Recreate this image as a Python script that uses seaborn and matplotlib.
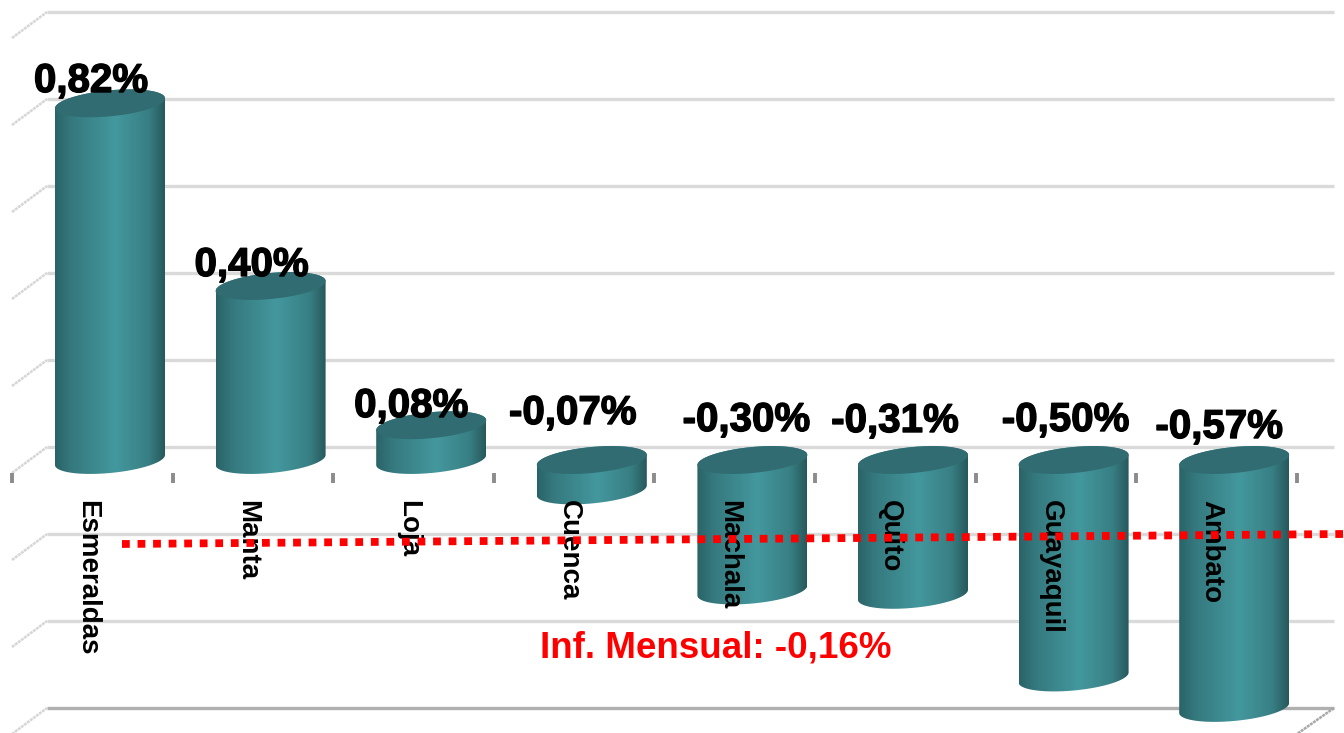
import numpy as np
import matplotlib
matplotlib.use('Agg')
import matplotlib.pyplot as plt
import matplotlib.patheffects as pe
from matplotlib.colors import LinearSegmentedColormap
from matplotlib.patches import Polygon
import seaborn as sns

cities = ['Esmeraldas', 'Manta', 'Loja', 'Cuenca', 'Machala', 'Quito', 'Guayaquil', 'Ambato']
inflation = [0.82, 0.40, 0.08, -0.07, -0.30, -0.31, -0.50, -0.57]
value_labels = ['0,82%', '0,40%', '0,08%', '-0,07%', '-0,30%', '-0,31%', '-0,50%', '-0,57%']
grid_values = [1.0, 0.8, 0.6, 0.4, 0.2, 0.0, -0.2, -0.4, -0.6]
monthly_label = 'Inf. Mensual: -0,16%'

# scale of the picture: pixels per category and per unit of value
PX_X = 160.6
PX_Y = 435.0

sns.set_style('white')
plt.rcParams['font.family'] = ['Liberation Sans', 'DejaVu Sans']

fig = plt.figure(figsize=(13.44, 7.33), dpi=100)
ax = fig.add_axes([0, 0, 1, 1])

sns.barplot(x=cities, y=inflation, ax=ax, width=110 / PX_X, color='#3c8c92', zorder=1)

cmap = LinearSegmentedColormap.from_list(
    'cyl', [(0, '#2a6367'), (0.15, '#35797e'), (0.55, '#43989e'), (0.85, '#387f84'), (1, '#27595c')])
gradient = np.linspace(0, 1, 256).reshape(1, -1)


def ellipse(cx, cy, a, t):
    # slightly tilted ring, the right side sits higher than the left
    x = cx + a * np.cos(t)
    y = cy + (13 * np.sin(t) + 5 * np.cos(t)) / PX_Y
    return np.column_stack([x, y])


t_low = np.linspace(np.pi, 2 * np.pi, 60)
t_up = np.linspace(0, np.pi, 60)
t_all = np.linspace(0, 2 * np.pi, 120)

for bar in ax.patches:
    cx = bar.get_x() + bar.get_width() / 2
    a = bar.get_width() / 2
    v = bar.get_height()
    top, bottom = max(v, 0), min(v, 0)
    bar.set_visible(False)
    body = Polygon(np.vstack([ellipse(cx, bottom, a, t_low), ellipse(cx, top, a, t_up)]),
                   transform=ax.transData, facecolor='none', edgecolor='none')
    ax.add_patch(body)
    im = ax.imshow(gradient, cmap=cmap, aspect='auto', zorder=1,
                   extent=[cx - a, cx + a, bottom - 0.1, top + 0.1])
    im.set_clip_path(body)
    ax.add_patch(Polygon(ellipse(cx, top, a, t_all), facecolor='#306c71', edgecolor='none', zorder=1.2))

# back wall lines and the slanted side wall
grid_off = 13 / PX_Y
x0, x1, x_front = -63 / PX_X, 1224 / PX_X, -98 / PX_X
for g in grid_values:
    c = '#b0b0b0' if g == grid_values[-1] else '#dadada'
    ax.plot([x0, x1], [g + grid_off] * 2, color=c, lw=2.4, zorder=0.5, solid_capstyle='butt')
    ax.plot([x_front, x0], [g + grid_off - 26 / PX_Y, g + grid_off], color='#d6d6d6', lw=1.8,
            ls=(0, (1.2, 0.3)), zorder=0.5)
g = grid_values[-1]
ax.plot([x1, x1 - 37 / PX_X], [g + grid_off, g + grid_off - 26 / PX_Y], color='#a8a8a8', lw=1.8,
        ls=(0, (1.2, 0.3)), zorder=0.5)

# front axis with tick marks between the cities
pos = np.arange(len(cities))
ax.spines['bottom'].set_position(('data', grid_off - 26 / PX_Y))
for s in ax.spines.values():
    s.set_visible(False)
ax.set_axisbelow(False)
ax.set_xticks(pos - 23 / PX_X)
ax.set_xticklabels(cities, rotation=270, fontsize=20, fontweight='bold', color='black', va='top')
ax.set_xticks(np.arange(len(cities) + 1) - 98 / PX_X, minor=True)
ax.set_yticks([])
ax.tick_params(axis='x', which='major', length=0, pad=19.5, bottom=True)
ax.tick_params(axis='x', which='minor', length=7, width=2.8, color='#8c8c8c', direction='out', bottom=True)

# hand placed labels, as in the original slide
label_dx = [-19, -19, -20, -19, -6, -18, -8, -15]
label_y = [81, 265, 406, 413, 420, 421, 420, 427]
for p, lab, dx, y in zip(pos, value_labels, label_dx, label_y):
    ax.annotate(lab, xy=(p, 0), xytext=(dx, 460 - y), textcoords='offset pixels', ha='center', va='center',
                fontsize=29, fontweight='bold', color='black', zorder=6,
                path_effects=[pe.withStroke(linewidth=1, foreground='black')])

# monthly inflation line
ax.plot([12 / PX_X, 1234 / PX_X], [-84 / PX_Y, -74 / PX_Y], color='#ff0000', lw=5.6,
        ls=(0, (1, 1)), dash_capstyle='butt', zorder=5)
ax.text(606 / PX_X, -188 / PX_Y, monthly_label, color='#ff0000', fontsize=26.5, fontweight='bold',
        ha='center', va='center', zorder=6)

ax.set_xlim(-110 / PX_X, (1344 - 110) / PX_X)
ax.set_ylim(-(733 - 460) / PX_Y, 460 / PX_Y)

fig.savefig('out.png', dpi=100, facecolor='white')
